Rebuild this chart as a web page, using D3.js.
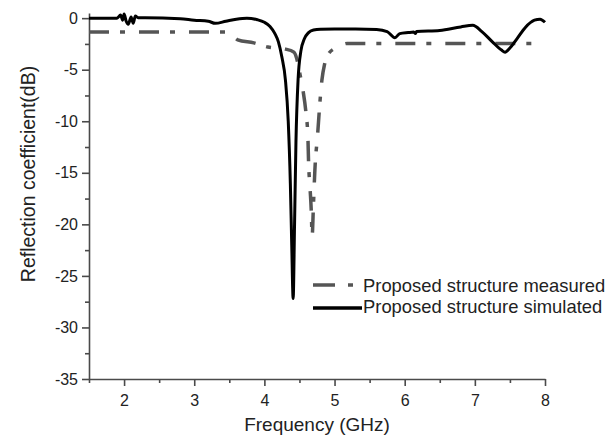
<!DOCTYPE html>
<html><head><meta charset="utf-8">
<script src="https://cdn.jsdelivr.net/npm/d3@7"></script>
<style>
html,body{margin:0;padding:0;background:#fff;}
svg{display:block;font-family:"Liberation Sans",Arial,sans-serif;}
</style></head>
<body>
<svg id="chart" width="609" height="435"></svg>
<script>
// Simulated reflection coefficient (GHz, dB)
const simFreq = [1.5,1.9,1.95,1.98,2.0,2.03,2.06,2.1,2.13,2.16,2.2,2.3,2.8,3.0,3.2,3.3,3.45,3.6,3.75,3.9,4.0,4.08,4.15,4.2,4.25,4.3,4.34,4.37,4.39,4.41,4.43,4.45,4.48,4.52,4.57,4.63,4.7,4.8,5.0,5.3,5.6,5.75,5.86,5.93,6.05,6.13,6.15,6.17,6.5,6.8,6.97,7.1,7.25,7.38,7.43,7.5,7.6,7.72,7.85,7.93,8.0];
const simDb   = [0,0,0.3,-0.2,0.4,-0.3,-0.6,0.1,-0.5,0.2,0.05,0.05,-0.05,-0.2,-0.3,-0.5,-0.3,-0.1,0.0,-0.15,-0.4,-0.8,-1.5,-2.3,-3.8,-6,-10,-16,-22,-27.2,-20,-12,-6,-3.2,-2.0,-1.4,-1.15,-1.07,-1.05,-1.05,-1.1,-1.3,-1.9,-1.5,-1.4,-1.35,-1.5,-1.3,-1.2,-0.85,-0.7,-1.3,-2.3,-3.1,-3.3,-2.9,-2.0,-0.9,-0.2,-0.1,-0.4];
// Measured reflection coefficient (GHz, dB)
const measFreq = [1.5,3.5,3.55,3.62,3.85,4.05,4.3,4.42,4.46,4.5,4.55,4.59,4.62,4.63,4.65,4.67,4.68,4.7,4.72,4.76,4.79,4.82,4.86,4.92,5.05,5.18,8.0];
const measDb   = [-1.35,-1.35,-1.7,-2.1,-2.4,-2.8,-3.0,-3.3,-3.9,-5.2,-7,-9,-11.5,-14,-16.4,-19,-21.2,-18,-14.7,-11.2,-8.3,-6,-4.4,-3.4,-2.8,-2.45,-2.45];
const xTicks = [2,3,4,5,6,7,8];
const xMinor = [1.5,2.5,3.5,4.5,5.5,6.5,7.5];
const yTicks = [0,-5,-10,-15,-20,-25,-30,-35];
const yMinor = [-2.5,-7.5,-12.5,-17.5,-22.5,-27.5,-32.5];
const seriesNames = ["Proposed structure measured","Proposed structure simulated"];

const svg = d3.select("#chart");
const x = d3.scaleLinear().domain([1.5,8]).range([89,545]);
const y = d3.scaleLinear().domain([-35,0.5]).range([379,13]);
const axisColor = "#4a4a4a";
const textColor = "#222";

// axes
const gx = svg.append("g").attr("transform","translate(0,379)")
  .call(d3.axisBottom(x).tickValues(xTicks).tickSize(7).tickSizeOuter(0).tickFormat(d3.format("d")));
const gxm = svg.append("g").attr("transform","translate(0,379)")
  .call(d3.axisBottom(x).tickValues(xMinor).tickSize(4).tickSizeOuter(0).tickFormat(""));
gxm.select(".domain").remove();
const gy = svg.append("g").attr("transform","translate(89,0)")
  .call(d3.axisLeft(y).tickValues(yTicks).tickSize(7).tickSizeOuter(0).tickFormat(d3.format("d")));
const gym = svg.append("g").attr("transform","translate(89,0)")
  .call(d3.axisLeft(y).tickValues(yMinor).tickSize(4).tickSizeOuter(0).tickFormat(""));
gym.select(".domain").remove();
[gx,gxm,gy,gym].forEach(g=>{
  g.selectAll("path,line").attr("stroke",axisColor).attr("stroke-width",1.6);
  g.selectAll("text").attr("fill",textColor).attr("font-size","16px")
   .attr("font-family","'Liberation Sans',Arial,sans-serif");
});
gx.selectAll("text").attr("dy","1.05em");
gy.selectAll("text").attr("dx","-1px").text(d=>d===0?"0":d3.format("d")(d).replace("−","-"));

// lines
const line = d3.line().x(d=>x(d[0])).y(d=>y(d[1])).curve(d3.curveMonotoneX);
const measData = measFreq.map((f,i)=>[f,measDb[i]]);
const simData = simFreq.map((f,i)=>[f,simDb[i]]);
svg.append("path").attr("d",line(measData)).attr("fill","none")
  .attr("stroke","#555").attr("stroke-width",3.5)
  .attr("stroke-dasharray","20,11,5,14");
svg.append("path").attr("d",line(simData)).attr("fill","none")
  .attr("stroke","#000").attr("stroke-width",3).attr("stroke-linejoin","round");

// legend
const lg = svg.append("g");
lg.append("line").attr("x1",313).attr("x2",353).attr("y1",285).attr("y2",285)
  .attr("stroke","#555").attr("stroke-width",3.5).attr("stroke-dasharray","22,13,5,20");
lg.append("line").attr("x1",313).attr("x2",362).attr("y1",308).attr("y2",308)
  .attr("stroke","#000").attr("stroke-width",3.5);
lg.selectAll("text.lt").data(seriesNames).join("text").attr("class","lt")
  .attr("x",363).attr("y",(d,i)=>292+i*21)
  .attr("font-size","18.4px").attr("fill",textColor).text(d=>d);

// axis titles
svg.append("text").attr("x",317).attr("y",431).attr("text-anchor","middle")
  .attr("font-size","19px").attr("fill",textColor).text("Frequency (GHz)");
svg.append("text").attr("transform","translate(35,174) rotate(-90)").attr("text-anchor","middle")
  .attr("font-size","19.5px").attr("fill",textColor).text("Reflection coefficient(dB)");
</script>
</body></html>
